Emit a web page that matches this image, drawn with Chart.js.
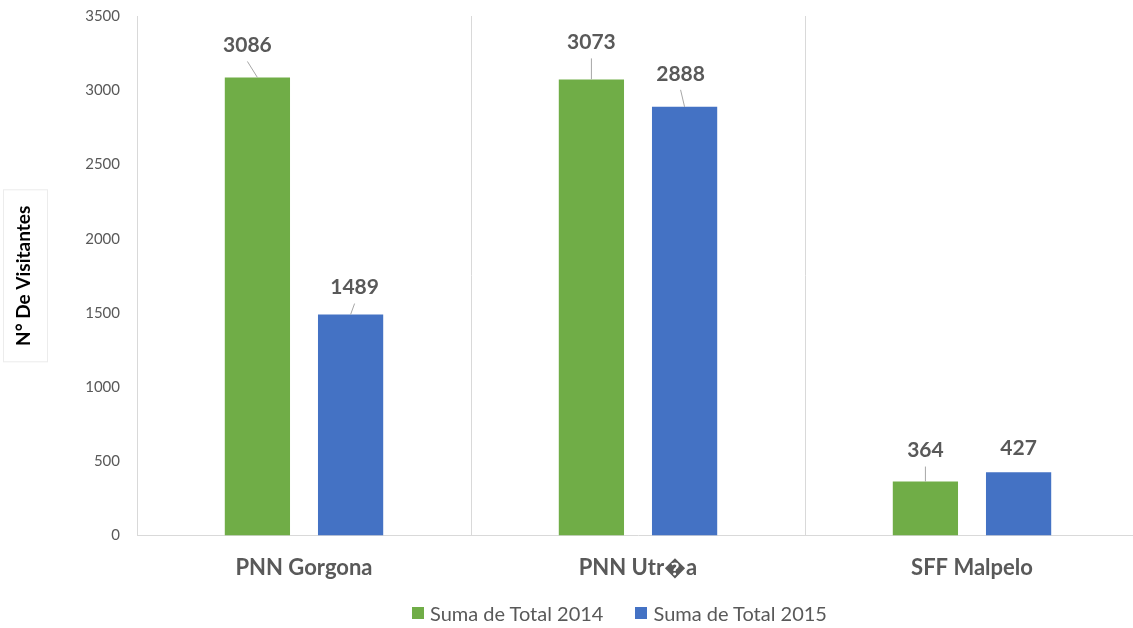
<!DOCTYPE html>
<html>
<head>
<meta charset="utf-8">
<script src="https://cdn.jsdelivr.net/npm/chart.js@4.4.1/dist/chart.umd.min.js"></script>
<style>
    html, body { margin: 0; padding: 0; background: #fff; overflow: hidden; }
    #wrap { position: relative; width: 1140px; height: 628px; }
    #visitors-chart { position: absolute; left: 0; top: 0; display: block; }
    #legend {
        position: absolute; left: 412px; top: 601px;
        display: flex; align-items: center;
        font: 20px Lato, 'Open Sans', sans-serif; color: #595959;
        line-height: 24px; white-space: nowrap;
    }
    #legend .item { display: flex; align-items: center; margin-right: 32px; }
    #legend .box { width: 12px; height: 12px; margin-right: 6px; }
</style>
</head>
<body>
<div id="wrap">
    <canvas id="visitors-chart" width="1140" height="628"></canvas>
    <div id="legend"></div>
</div>
<script>
// Chart data
const categories = ['PNN Gorgona', 'PNN Utr\uFFFDa', 'SFF Malpelo'];
const seriesNames = ['Suma de Total 2014', 'Suma de Total 2015'];
const visitors2014 = [3086, 3073, 364];
const visitors2015 = [1489, 2888, 427];
const yMax = 3500;
const yStep = 500;
const yTitle = 'N\u00B0 De Visitantes';

// label nudges (px) so the value labels sit like in the original
const labelNudge = [
    [{ dx: -10, dy: 32 }, { dx: 0, dy: 37 }, { dx: 0, dy: 31 }],
    [{ dx: 4, dy: 27 }, { dx: -4, dy: 33 }, { dx: 0, dy: 24 }]
];

const FONT = "Lato, 'Open Sans', sans-serif";
const GREY = '#595959';

// Draws the bold value labels with their small leader lines
const valueLabels = {
    id: 'valueLabels',
    afterDatasetsDraw(chart) {
        const ctx = chart.ctx;
        ctx.save();
        ctx.font = 'bold 21px ' + FONT;
        ctx.textAlign = 'center';
        ctx.textBaseline = 'middle';
        chart.data.datasets.forEach((ds, di) => {
            const meta = chart.getDatasetMeta(di);
            meta.data.forEach((bar, i) => {
                const nudge = labelNudge[di][i];
                const cx = bar.x + nudge.dx;
                const cy = bar.y - nudge.dy;
                if (bar.y - (cy + 16) > 10) {
                    ctx.strokeStyle = '#a6a6a6';
                    ctx.lineWidth = 1;
                    ctx.beginPath();
                    ctx.moveTo(cx, cy + 16);
                    ctx.lineTo(bar.x, bar.y);
                    ctx.stroke();
                }
                ctx.fillStyle = GREY;
                ctx.fillText(ds.data[i], cx, cy);
            });
        });
        ctx.restore();
    }
};

// Faint box around the y axis title
const titleBox = {
    id: 'titleBox',
    afterDraw(chart) {
        const y = chart.scales.y;
        const mid = (y.top + y.bottom) / 2;
        const ctx = chart.ctx;
        ctx.save();
        ctx.strokeStyle = '#ececec';
        ctx.lineWidth = 1;
        ctx.strokeRect(3.5, mid - 86, 44, 172);
        ctx.restore();
    }
};

const ctx = document.getElementById('visitors-chart').getContext('2d');
const visitorsChart = new Chart(ctx, {
    type: 'bar',
    data: {
        labels: categories,
        datasets: [{
            label: seriesNames[0],
            data: visitors2014,
            backgroundColor: '#70AD47',
            categoryPercentage: 0.558,
            barPercentage: 0.7
        }, {
            label: seriesNames[1],
            data: visitors2015,
            backgroundColor: '#4472C4',
            categoryPercentage: 0.558,
            barPercentage: 0.7
        }]
    },
    options: {
        responsive: false,
        animation: false,
        layout: {
            autoPadding: false,
            padding: { top: 16, left: 0, right: 1, bottom: 28 }
        },
        scales: {
            x: {
                offset: true,
                grid: {
                    offset: true,
                    color: '#d9d9d9',
                    drawTicks: false
                },
                border: { color: '#d9d9d9' },
                ticks: {
                    padding: 19,
                    color: GREY,
                    font: { family: FONT, size: 22, weight: 'bold' }
                },
                afterFit(scale) {
                    scale.paddingLeft = 0;
                    scale.paddingRight = 0;
                }
            },
            y: {
                min: 0,
                max: yMax,
                grid: { display: false, drawTicks: false },
                border: { display: true, color: '#d9d9d9' },
                ticks: {
                    stepSize: yStep,
                    padding: 17,
                    color: GREY,
                    font: { family: FONT, size: 15 },
                    callback: value => String(value)
                },
                title: {
                    display: true,
                    text: yTitle,
                    color: '#000',
                    padding: { top: 12, bottom: 0 },
                    font: { family: FONT, size: 19, weight: 'bold' }
                },
                afterFit(scale) {
                    scale.width = 137;
                    scale.paddingTop = 0;
                    scale.paddingBottom = 0;
                }
            }
        },
        plugins: {
            legend: { display: false },
            tooltip: { enabled: false }
        }
    },
    plugins: [valueLabels, titleBox]
});

// Legend as plain page text, built from the datasets
const legendEl = document.getElementById('legend');
visitorsChart.data.datasets.forEach(ds => {
    const item = document.createElement('span');
    item.className = 'item';
    const box = document.createElement('span');
    box.className = 'box';
    box.style.background = ds.backgroundColor;
    item.appendChild(box);
    item.appendChild(document.createTextNode(ds.label));
    legendEl.appendChild(item);
});
</script>
</body>
</html>
